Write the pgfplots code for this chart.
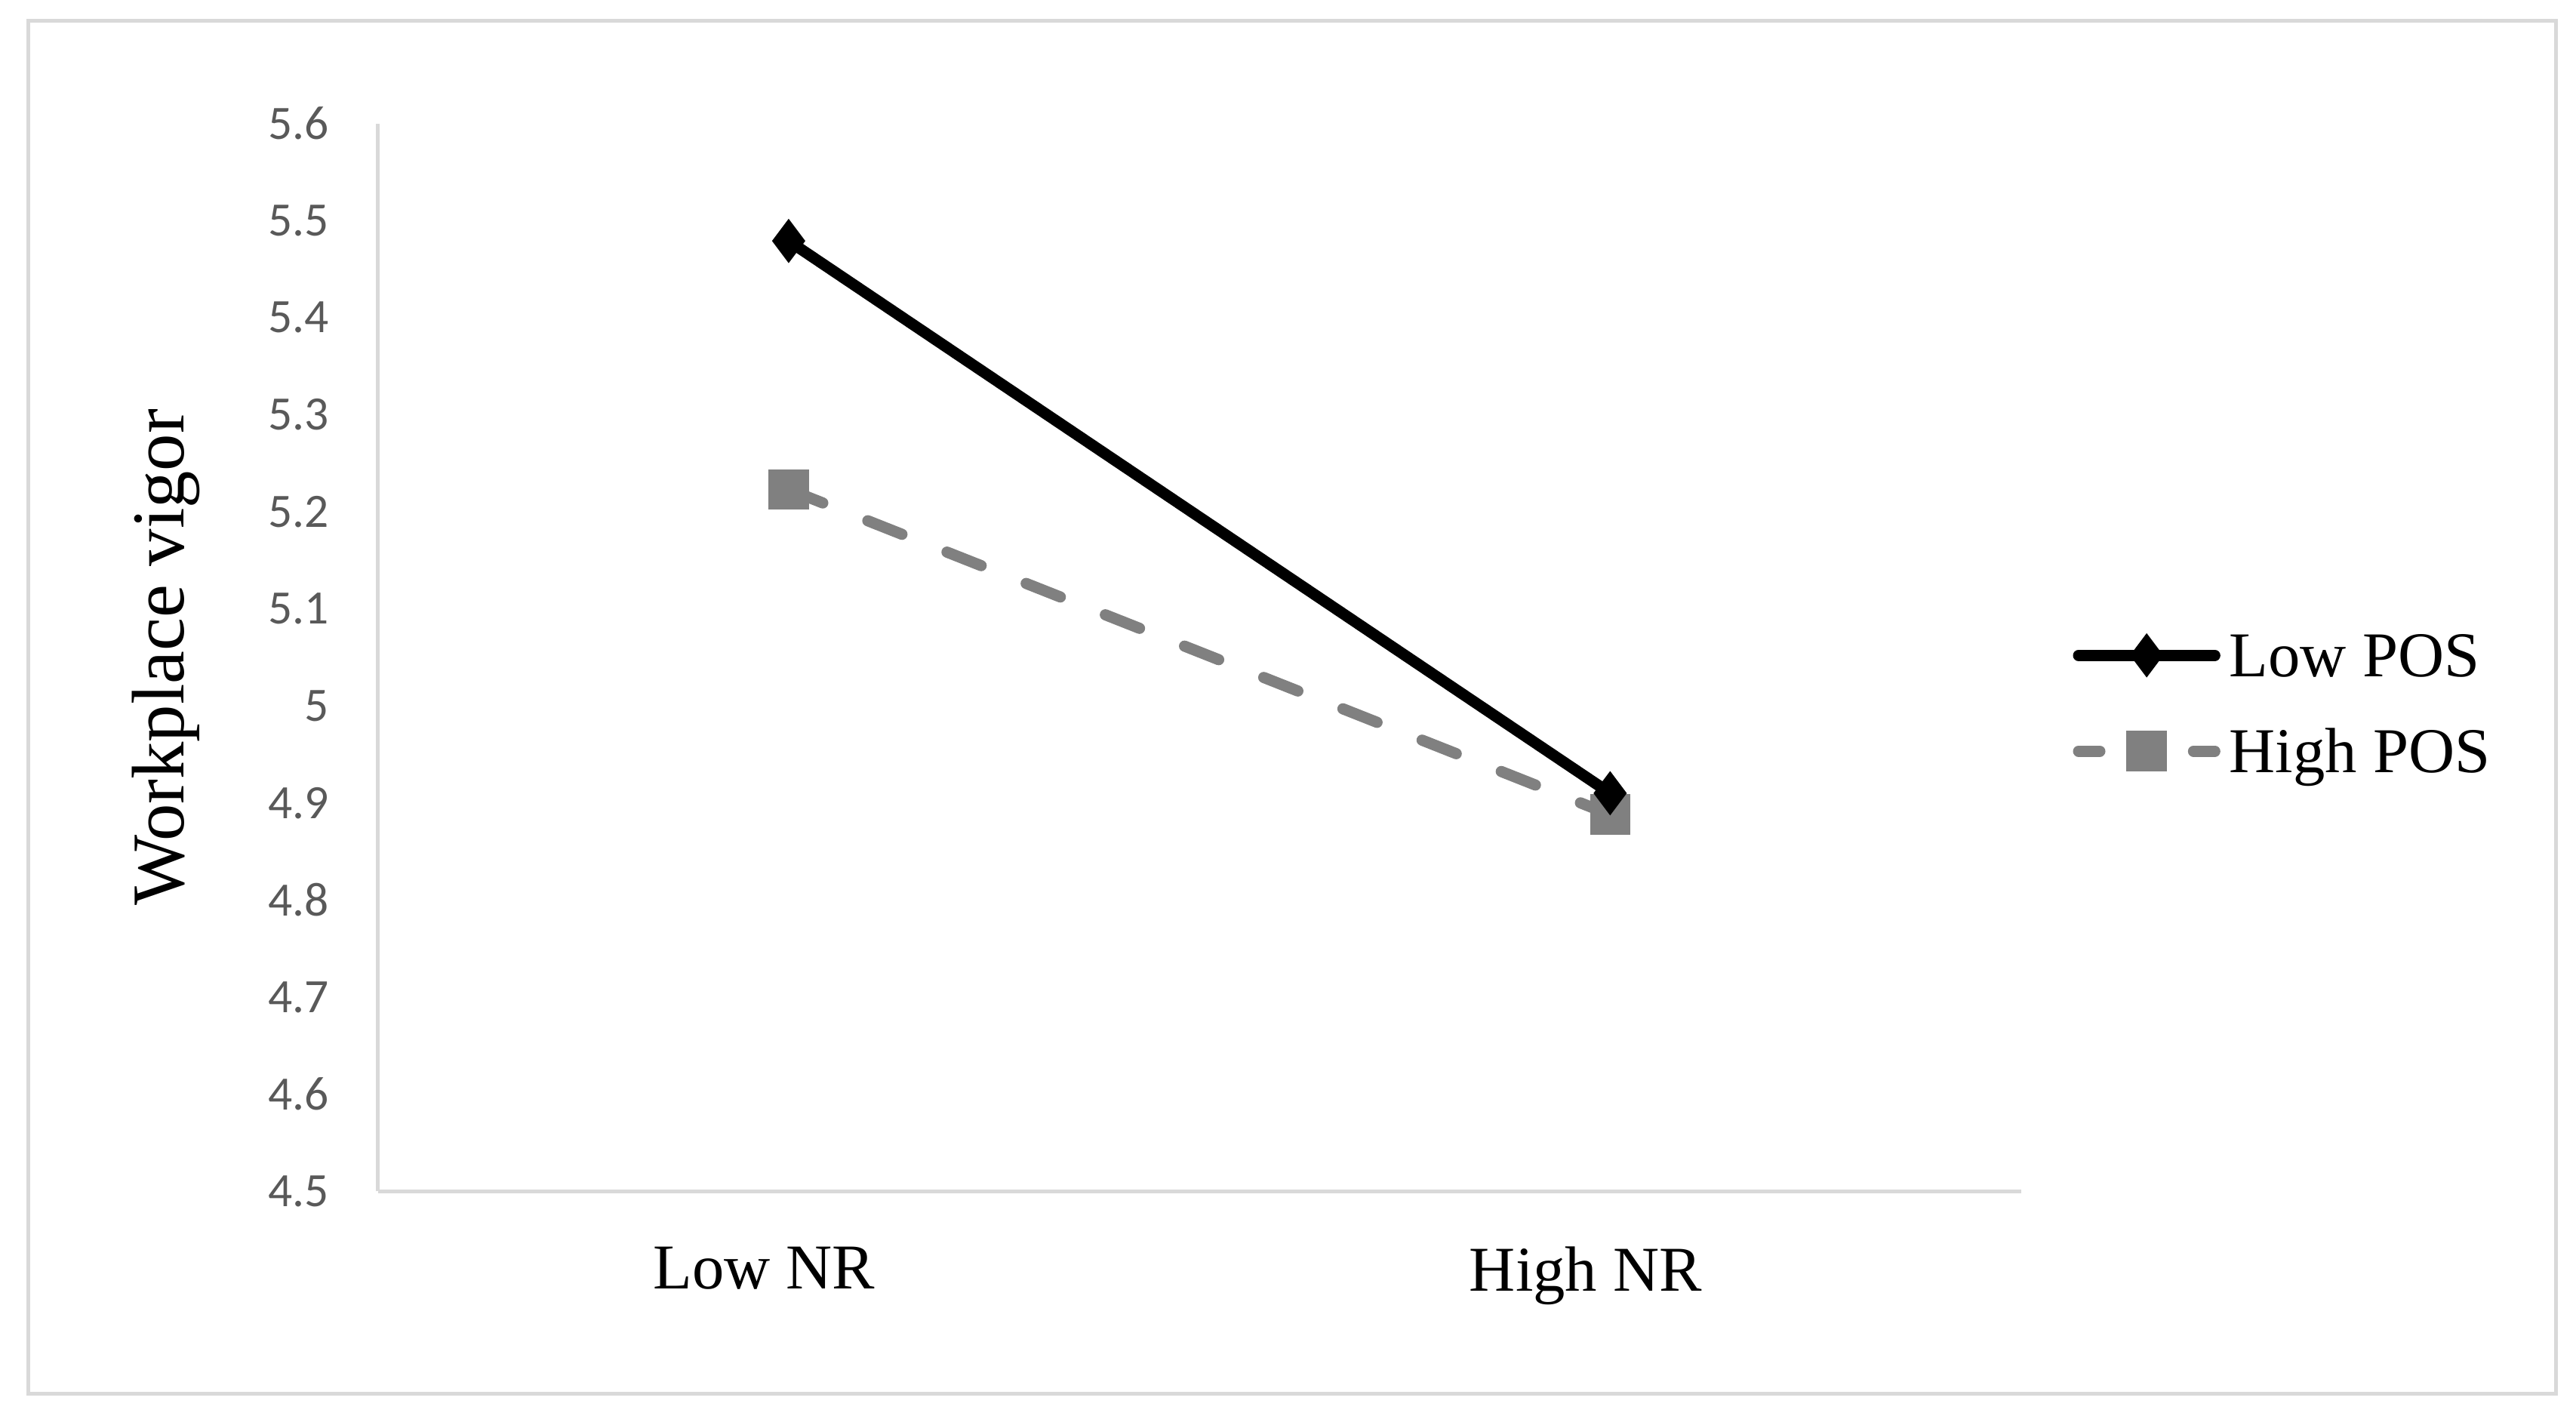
\documentclass[border=0pt]{standalone}
\usepackage{pgfplots}
\pgfplotsset{compat=1.18}
\usepackage{fontspec}
\setmainfont{Liberation Serif}
\newfontfamily\calibri{Carlito}
\definecolor{axgray}{HTML}{D9D9D9}
\definecolor{tickgray}{HTML}{595959}
\definecolor{serGray}{HTML}{808080}
\begin{document}
\begin{tikzpicture}
\begin{axis}[
  scale only axis, width=308.7pt, height=200.6pt,
  xmin=-0.5, xmax=1.5, ymin=4.5, ymax=5.6,
  axis x line=bottom, axis y line=left,
  axis line style={-, draw=axgray, line width=0.7pt},
  xtick={0,1}, xticklabels={Low NR, High NR},
  ytick={4.5,4.6,4.7,4.8,4.9,5.0,5.1,5.2,5.3,5.4,5.5,5.6},
  yticklabels={4.5,4.6,4.7,4.8,4.9,5,5.1,5.2,5.3,5.4,5.5,5.6},
  major tick length=0pt, tick align=outside,
  xticklabel style={font=\fontsize{12}{14}\selectfont, inner sep=0pt, anchor=north, yshift=-10.3pt, xshift=-4.6pt},
  yticklabel style={font=\calibri\fontsize{9}{11}\selectfont, text=tickgray, inner sep=0pt, anchor=east, xshift=-9pt},
  ylabel={Workplace vigor},
  ylabel style={at={(axis description cs:-0.1289,0.5)}, anchor=center, font=\fontsize{14}{16}\selectfont},
  legend style={at={(1.0317,0.457)}, anchor=west, draw=none, fill=none, inner sep=0pt, outer sep=0pt,
    nodes={inner sep=0pt, outer sep=0pt, text height=8pt, text depth=0pt, font=\fontsize{12}{14}\selectfont},
    row sep=10pt, column sep=0pt},
  legend cell align=left,
  reverse legend,
  clip=false,
]
\addplot[color=serGray, line width=2.1pt, dash pattern=on 6.9pt off 9.1pt, line cap=round,
  mark=square*, mark size=3.7pt, mark options={solid, fill=serGray, draw=serGray, line width=0.2pt},
  legend image code/.code={
    \draw[serGray, line width=2.1pt, line cap=round] (0pt,0pt) -- (4pt,0pt) (21.6pt,0pt) -- (25.6pt,0pt);
    \draw[serGray, mark=square*, mark size=3.7pt, mark options={solid, fill=serGray, line width=0.2pt}] plot coordinates {(12.8pt,0pt)};
    \path (27.3pt,0pt);
  }]
  coordinates {(0,5.223) (1,4.888)};
\addlegendentry{High POS}
\addplot[color=black, line width=2.1pt, line cap=round,
  mark=diamond*, mark size=4pt, mark options={solid, fill=black, draw=black, line width=0.2pt},
  legend image code/.code={
    \draw[black, line width=2.1pt, line cap=round] (0pt,0pt) -- (25.6pt,0pt);
    \draw[black, mark=diamond*, mark size=4pt, mark options={solid, fill=black, line width=0.2pt}] plot coordinates {(12.8pt,0pt)};
    \path (27.3pt,0pt);
  }]
  coordinates {(0,5.479) (1,4.91)};
\addlegendentry{Low POS}
\end{axis}
\draw[axgray, line width=0.7pt] (-65.7pt,-38.1pt) rectangle (409.2pt,219.9pt);
\pgfresetboundingbox
\useasboundingbox (-71.0pt,-42.1pt) rectangle (413.0pt,223.8pt);
\end{tikzpicture}
\end{document}
